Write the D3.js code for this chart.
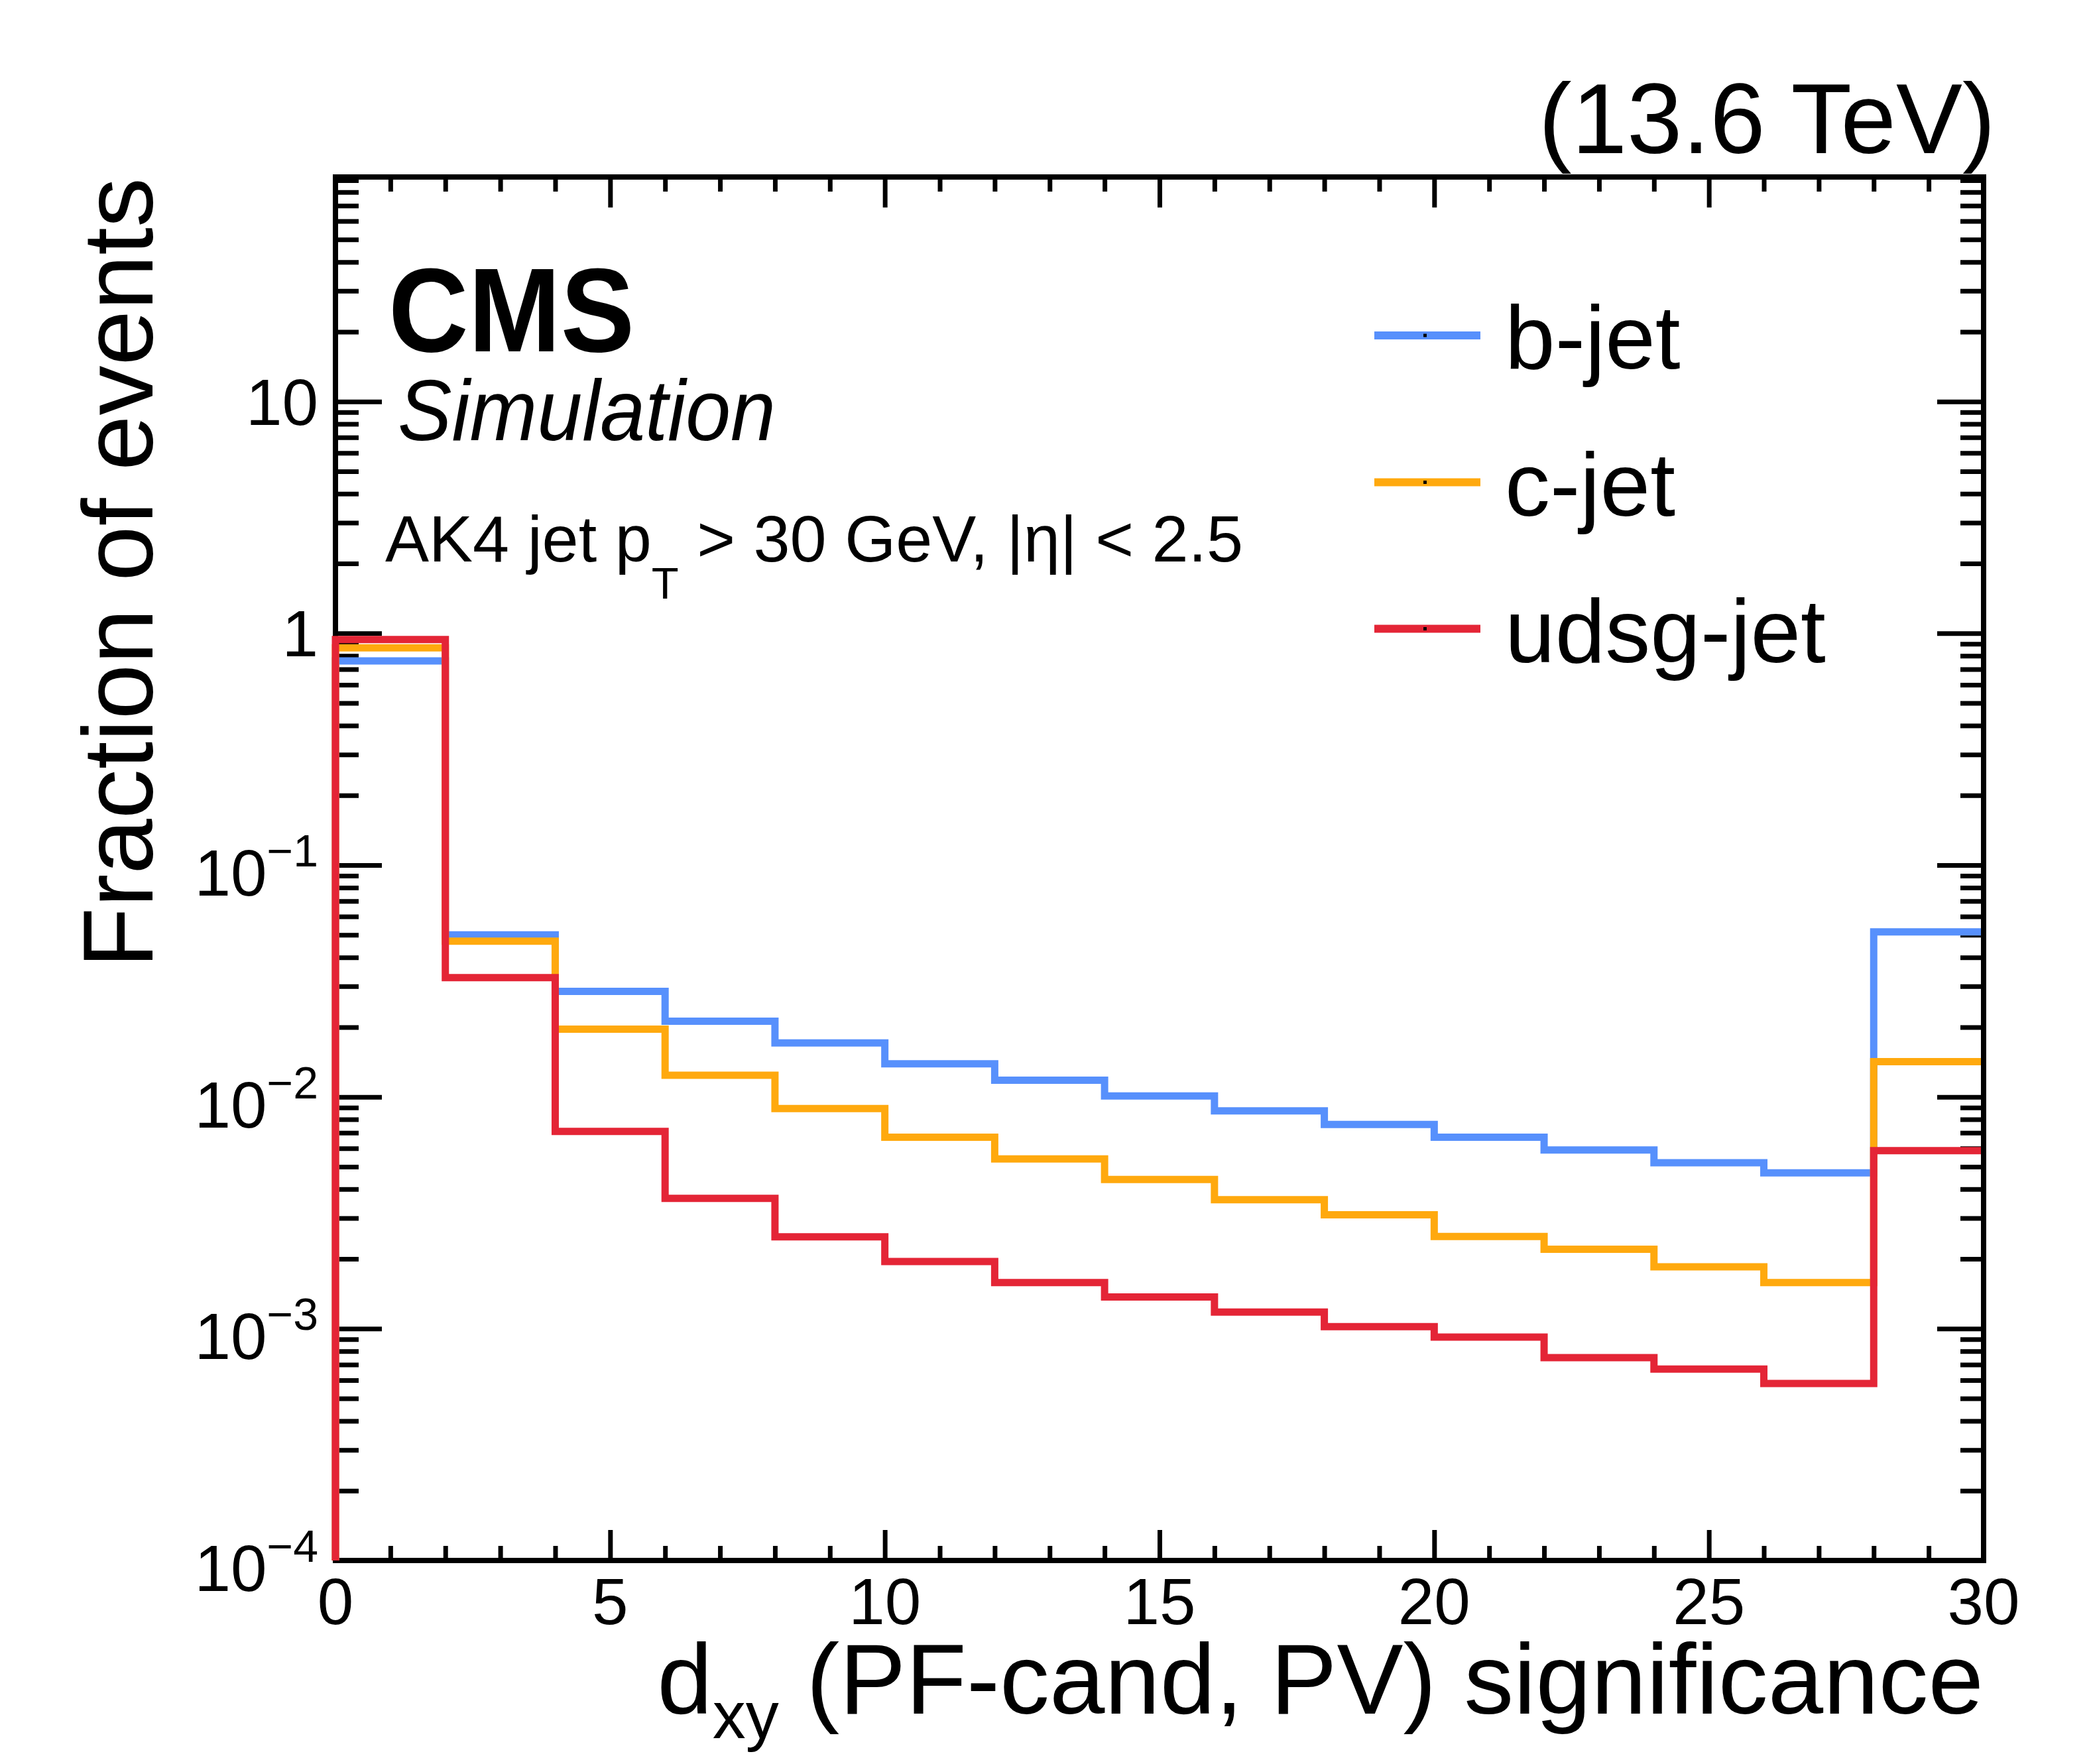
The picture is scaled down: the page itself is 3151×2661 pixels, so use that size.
<!DOCTYPE html>
<html>
<head>
<meta charset="utf-8">
<script src="https://cdn.jsdelivr.net/npm/d3@7"></script>
<style>
  body { margin: 0; background: #fff; }
  text { font-family: "Liberation Sans", Arial, Helvetica, sans-serif; fill: #000; }
</style>
</head>
<body>
<svg id="chart" width="3151" height="2661"></svg>
<script>
// bin edges of the dxy significance histogram
var binEdges = [0, 2, 4, 6, 8, 10, 12, 14, 16, 18, 20, 22, 24, 26, 28, 30];

// fraction of events per bin
var bJet    = [0.76, 0.050, 0.0285, 0.0212, 0.0171, 0.0139, 0.0118, 0.0101, 0.0087, 0.0076, 0.0067, 0.0059, 0.0052, 0.0047, 0.0515];
var cJet    = [0.865, 0.047, 0.0196, 0.0124, 0.0089, 0.0067, 0.0054, 0.0044, 0.0036, 0.0031, 0.0025, 0.0022, 0.00185, 0.00158, 0.0142];
var udsgJet = [0.94, 0.0327, 0.0071, 0.00365, 0.00249, 0.00195, 0.00158, 0.00137, 0.00118, 0.00102, 0.00092, 0.00075, 0.00067, 0.00058, 0.00586];

var seriesNames = ["b-jet", "c-jet", "udsg-jet"];

var xMajorTicks = [0, 5, 10, 15, 20, 25, 30];
var xMinorTicks = [1, 2, 3, 4, 6, 7, 8, 9, 11, 12, 13, 14, 16, 17, 18, 19, 21, 22, 23, 24, 26, 27, 28, 29];
var yMajorTicks = [1e-4, 1e-3, 1e-2, 1e-1, 1, 10];
var yTickLabels = [["10", "\u22124"], ["10", "\u22123"], ["10", "\u22122"], ["10", "\u22121"], ["1", ""], ["10", ""]];
var yMinorMult = [2, 3, 4, 5, 6, 7, 8, 9];

var cBlue = "#5790fc";
var cOrange = "#ffa90e";
var cRed = "#e42536";
var colors = [cBlue, cOrange, cRed];

var LEFT = 506, RIGHT = 2992, TOP = 267, BOTTOM = 2354;
var LABEL_SIZE = 98, TITLE_SIZE = 150;

var svg = d3.select("#chart");

var x = d3.scaleLinear().domain([0, 30]).range([LEFT, RIGHT]);
var y = d3.scaleLog().domain([1e-4, 93]).range([BOTTOM, TOP]);

var yMinorTicks = [];
yMajorTicks.forEach(function(d){
  yMinorMult.forEach(function(m){
    if (d * m < y.domain()[1]) yMinorTicks.push(d * m);
  });
});

function tickAxis(axis, g){
  g.call(axis);
  g.select(".domain").remove();
  g.selectAll(".tick line").attr("stroke", "#000").attr("stroke-width", 7);
  return g;
}

// ticks on all four sides
tickAxis(d3.axisBottom(x).tickValues(xMajorTicks).tickSize(-46).tickFormat(""),
  svg.append("g").attr("transform", "translate(0," + BOTTOM + ")"));
tickAxis(d3.axisBottom(x).tickValues(xMinorTicks).tickSize(-22).tickFormat(""),
  svg.append("g").attr("transform", "translate(0," + BOTTOM + ")"));
tickAxis(d3.axisTop(x).tickValues(xMajorTicks).tickSize(-46).tickFormat(""),
  svg.append("g").attr("transform", "translate(0," + TOP + ")"));
tickAxis(d3.axisTop(x).tickValues(xMinorTicks).tickSize(-22).tickFormat(""),
  svg.append("g").attr("transform", "translate(0," + TOP + ")"));
tickAxis(d3.axisLeft(y).tickValues(yMajorTicks).tickSize(-70).tickFormat(""),
  svg.append("g").attr("transform", "translate(" + LEFT + ",0)"));
tickAxis(d3.axisLeft(y).tickValues(yMinorTicks).tickSize(-35).tickFormat(""),
  svg.append("g").attr("transform", "translate(" + LEFT + ",0)"));
tickAxis(d3.axisRight(y).tickValues(yMajorTicks).tickSize(-70).tickFormat(""),
  svg.append("g").attr("transform", "translate(" + RIGHT + ",0)"));
tickAxis(d3.axisRight(y).tickValues(yMinorTicks).tickSize(-35).tickFormat(""),
  svg.append("g").attr("transform", "translate(" + RIGHT + ",0)"));

// x tick labels
svg.append("g").selectAll("text").data(xMajorTicks).enter().append("text")
  .attr("x", function(d){ return x(d); })
  .attr("y", 2450)
  .attr("text-anchor", "middle")
  .attr("font-size", LABEL_SIZE)
  .text(function(d){ return d; });

// y tick labels (10^n with superscript)
var ylab = svg.append("g").selectAll("text").data(yMajorTicks).enter().append("text")
  .attr("x", 480)
  .attr("text-anchor", "end")
  .attr("font-size", LABEL_SIZE)
  .attr("y", function(d, i){ return yTickLabels[i][1] ? y(d) + 46 : y(d) + 35; });
ylab.append("tspan").text(function(d, i){ return yTickLabels[i][0]; });
ylab.append("tspan")
  .attr("font-size", 68)
  .attr("dy", -44)
  .text(function(d, i){ return yTickLabels[i][1]; });

// axis titles
var xt = svg.append("text")
  .attr("x", RIGHT).attr("y", 2585)
  .attr("text-anchor", "end")
  .attr("font-size", TITLE_SIZE);
xt.append("tspan").text("d");
xt.append("tspan").attr("font-size", 100).attr("dy", 37).text("xy");
xt.append("tspan").attr("dy", -37).text(" (PF-cand, PV) significance");

svg.append("text")
  .attr("transform", "translate(230," + (TOP + 1) + ") rotate(-90)")
  .attr("text-anchor", "end")
  .attr("font-size", TITLE_SIZE)
  .text("Fraction of events");

// histograms as step outlines (rise from the axis at the left edge)
var line = d3.line()
  .x(function(p){ return x(p[0]); })
  .y(function(p){ return p[1] === null ? BOTTOM : y(p[1]); });

[bJet, cJet, udsgJet].forEach(function(vals, k){
  var pts = [[binEdges[0], null]];
  vals.forEach(function(v, i){
    pts.push([binEdges[i], v]);
    pts.push([binEdges[i + 1], v]);
  });
  svg.append("path")
    .attr("d", line(pts))
    .attr("fill", "none")
    .attr("stroke", colors[k])
    .attr("stroke-width", 11)
    .attr("stroke-linejoin", "miter");
});

// frame drawn over the right edge of the histograms
svg.append("line")
  .attr("x1", RIGHT).attr("x2", RIGHT)
  .attr("y1", TOP - 4).attr("y2", BOTTOM + 4)
  .attr("stroke", "#000").attr("stroke-width", 8);
svg.append("polyline")
  .attr("points", [[RIGHT, TOP], [LEFT, TOP], [LEFT, BOTTOM], [RIGHT, BOTTOM]].join(" "))
  .attr("fill", "none").attr("stroke", "#000").attr("stroke-width", 8)
  .lower();

// CMS labels
svg.append("text")
  .attr("x", 586).attr("y", 530)
  .attr("font-size", 180).attr("font-weight", "bold")
  .attr("textLength", 371).attr("lengthAdjust", "spacingAndGlyphs")
  .text("CMS");
svg.append("text")
  .attr("x", 600).attr("y", 664)
  .attr("font-size", 130).attr("font-style", "italic")
  .attr("textLength", 570).attr("lengthAdjust", "spacingAndGlyphs")
  .text("Simulation");

var ak = svg.append("text")
  .attr("x", 581).attr("y", 847)
  .attr("font-size", 99);
ak.append("tspan").text("AK4 jet p");
ak.append("tspan").attr("font-size", 67).attr("dy", 56).text("T");
ak.append("tspan").attr("dy", -56).text(" > 30 GeV, |\u03b7| < 2.5");

svg.append("text")
  .attr("x", 3010).attr("y", 231)
  .attr("text-anchor", "end")
  .attr("font-size", TITLE_SIZE)
  .text("(13.6 TeV)");

// legend
var legendY = [506, 727.5, 948.5];
var leg = svg.append("g").selectAll("g").data(seriesNames).enter().append("g")
  .attr("transform", function(d, i){ return "translate(0," + legendY[i] + ")"; });
leg.append("line")
  .attr("x1", 2073).attr("x2", 2233)
  .attr("stroke", function(d, i){ return colors[i]; })
  .attr("stroke-width", 12);
leg.append("rect")
  .attr("x", 2147).attr("y", -2.5).attr("width", 5).attr("height", 5)
  .attr("fill", "#000");
leg.append("text")
  .attr("x", 2270).attr("y", 50)
  .attr("font-size", 136)
  .text(function(d){ return d; });
</script>
</body>
</html>
